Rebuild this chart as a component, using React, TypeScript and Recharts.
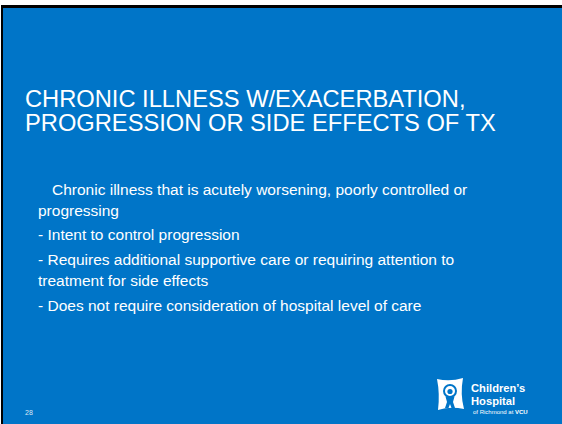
import { Surface, Rectangle } from 'recharts';

const titleLines = ['CHRONIC ILLNESS W/EXACERBATION,', 'PROGRESSION OR SIDE EFFECTS OF TX'];
const bodyLines = [
  { text: 'Chronic illness that is acutely worsening, poorly controlled or', indent: true },
  { text: 'progressing', indent: false },
  { text: '- Intent to control progression', indent: false },
  { text: '- Requires additional supportive care or requiring attention to', indent: false },
  { text: 'treatment for side effects', indent: false },
  { text: '- Does not require consideration of hospital level of care', indent: false },
];
const bodyBaselines = [195, 216, 240, 265, 286, 311];
const slideNumber = '28';
const logoLines = ["Children\u2019s", 'Hospital'];
const logoTag = 'of Richmond at ';
const logoTagBold = 'VCU';

const BLUE = '#0075c8';
const FONT = '"Liberation Sans", Arial, sans-serif';

export default function App() {
  return (
    <div style={{ position: 'absolute', left: 0, top: 0, width: 562, height: 424, background: '#fff' }}>
      <Surface width={562} height={424}>
        <Rectangle x={0} y={0} width={562} height={424} fill="#ffffff" />
        <Rectangle x={1} y={5} width={561} height={419} fill="#000000" />
        <Rectangle x={3} y={8} width={559} height={416} fill={BLUE} />

        {titleLines.map((t, i) => (
          <text key={t} x={25} y={107 + i * 24} fill="#ffffff" fontFamily={FONT} fontSize={23.7}>
            {t}
          </text>
        ))}

        {bodyLines.map((l, i) => (
          <text
            key={l.text}
            x={l.indent ? 52 : 38}
            y={bodyBaselines[i]}
            fill="#ffffff"
            fontFamily={FONT}
            fontSize={15.5}
          >
            {l.text}
          </text>
        ))}

        <text x={25} y={415} fill="#dbe8f5" fontFamily={FONT} fontSize={7}>
          {slideNumber}
        </text>

        {/* logo mark */}
        <path
          d="M437 379 Q450 382 463 378 Q460 394 464 409 Q450 406 438 410 Q440 394 437 379 Z"
          fill="#ffffff"
        />
        <circle cx={450} cy={391} r={6} fill="none" stroke={BLUE} strokeWidth={2} />
        <circle cx={450} cy={391.5} r={2.6} fill={BLUE} />
        <path
          d="M445.5 396.5 L454.5 396.5 L453 402 L455 408 L451.5 408 L450 404 L448.5 408 L445 408 L447 402 Z"
          fill={BLUE}
        />
        {logoLines.map((t, i) => (
          <text key={t} x={471} y={392 + i * 13} fill="#ffffff" fontFamily={FONT} fontWeight="bold" fontSize={11.2}>
            {t}
          </text>
        ))}
        <text x={473} y={414} fill="#ffffff" fontFamily={FONT} fontSize={6}>
          {logoTag}
          <tspan fontWeight="bold">{logoTagBold}</tspan>
        </text>
      </Surface>
    </div>
  );
}
